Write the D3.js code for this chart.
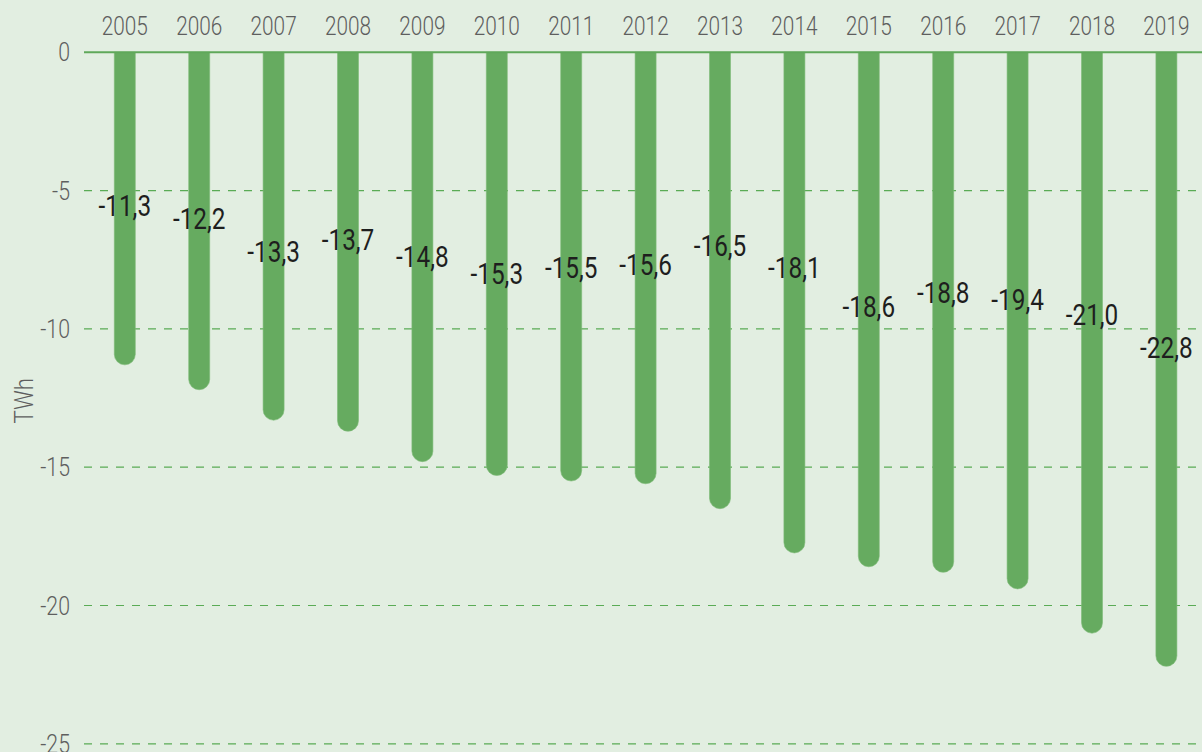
<!DOCTYPE html>
<html>
<head>
<meta charset="utf-8">
<script src="https://cdn.jsdelivr.net/npm/d3@7"></script>
<style>
  html, body { margin: 0; padding: 0; background: #e2eee1; }
  svg { display: block; }
</style>
</head>
<body>
<svg></svg>
<script>
  const years = ['2005', '2006', '2007', '2008', '2009', '2010', '2011', '2012', '2013', '2014', '2015', '2016', '2017', '2018', '2019'];
  // printed values (TWh)
  const labels = ['-11,3', '-12,2', '-13,3', '-13,7', '-14,8', '-15,3', '-15,5', '-15,6', '-16,5', '-18,1', '-18,6', '-18,8', '-19,4', '-21,0', '-22,8'];
  // bar lengths as drawn in the picture (the last bar is drawn shorter than its label)
  const values = [-11.3, -12.2, -13.3, -13.7, -14.8, -15.3, -15.5, -15.6, -16.5, -18.1, -18.6, -18.8, -19.4, -21.0, -22.2];
  // where each value label sits, in TWh on the y axis (hand placed in the original)
  const labelAt = [-5.92, -6.39, -7.57, -7.15, -7.75, -8.38, -8.17, -8.05, -7.36, -8.17, -9.56, -9.07, -9.31, -9.86, -11.06];
  const yTicks = [0, -5, -10, -15, -20, -25];

  const width = 1202, height = 752;
  const condensed = 'Roboto, "Noto Sans", sans-serif';

  let svg = d3.select('svg')
    .attr('width', width)
    .attr('height', height);

  svg.append('rect')
    .attr('width', width)
    .attr('height', height)
    .attr('fill', '#e2eee1');

  let x = d3.scalePoint()
    .domain(years)
    .range([124.8, 1166.4]);

  let y = d3.scaleLinear()
    .domain([0, -25])
    .range([52.3, 743.8]);

  const barW = 21;

  // dashed gridlines
  svg.append('g')
    .selectAll('line')
    .data(yTicks.filter(d => d !== 0))
    .join('line')
    .attr('x1', 84)
    .attr('x2', width)
    .attr('y1', d => y(d))
    .attr('y2', d => y(d))
    .attr('stroke', '#5aab55')
    .attr('stroke-width', 1.2)
    .attr('stroke-dasharray', '8,8');

  // y tick labels
  svg.append('g')
    .selectAll('text')
    .data(yTicks)
    .join('text')
    .attr('transform', d => `translate(70,${y(d) + 9}) scale(0.82,1)`)
    .attr('text-anchor', 'end')
    .style('font', `300 26px ${condensed}`)
    .attr('fill', '#5e5e5e')
    .text(d => d);

  svg.append('text')
    .attr('transform', `translate(33,${y(-12.6)}) rotate(-90) scale(0.85,1)`)
    .attr('text-anchor', 'middle')
    .style('font', `300 26px ${condensed}`)
    .attr('fill', '#5e5e5e')
    .text('TWh');

  // bars with a rounded bottom end
  function barPath(d, i) {
    let cx = x(years[i]), r = barW / 2;
    let top = y(0), bottom = y(d);
    return `M${cx - r},${top}V${bottom - r}A${r},${r} 0 0 0 ${cx + r},${bottom - r}V${top}Z`;
  }

  svg.append('g')
    .selectAll('path')
    .data(values)
    .join('path')
    .attr('d', barPath)
    .attr('fill', '#66ab60')
    .attr('stroke', '#7dbb77')
    .attr('stroke-width', 0.6);

  // zero line
  svg.append('line')
    .attr('x1', 84)
    .attr('x2', width)
    .attr('y1', y(0))
    .attr('y2', y(0))
    .attr('stroke', '#5fa85a')
    .attr('stroke-width', 2);

  // year labels on top
  svg.append('g')
    .selectAll('text')
    .data(years)
    .join('text')
    .attr('transform', d => `translate(${x(d)},35) scale(0.8,1)`)
    .attr('text-anchor', 'middle')
    .style('font', `300 26px ${condensed}`)
    .attr('fill', '#5e5e5e')
    .text(d => d);

  // value labels
  svg.append('g')
    .selectAll('text')
    .data(labels)
    .join('text')
    .attr('transform', (d, i) => `translate(${x(years[i])},${y(labelAt[i])}) scale(0.84,1)`)
    .attr('text-anchor', 'middle')
    .style('font', `400 29px ${condensed}`)
    .attr('fill', '#1e1e1e')
    .text(d => d);
</script>
</body>
</html>
